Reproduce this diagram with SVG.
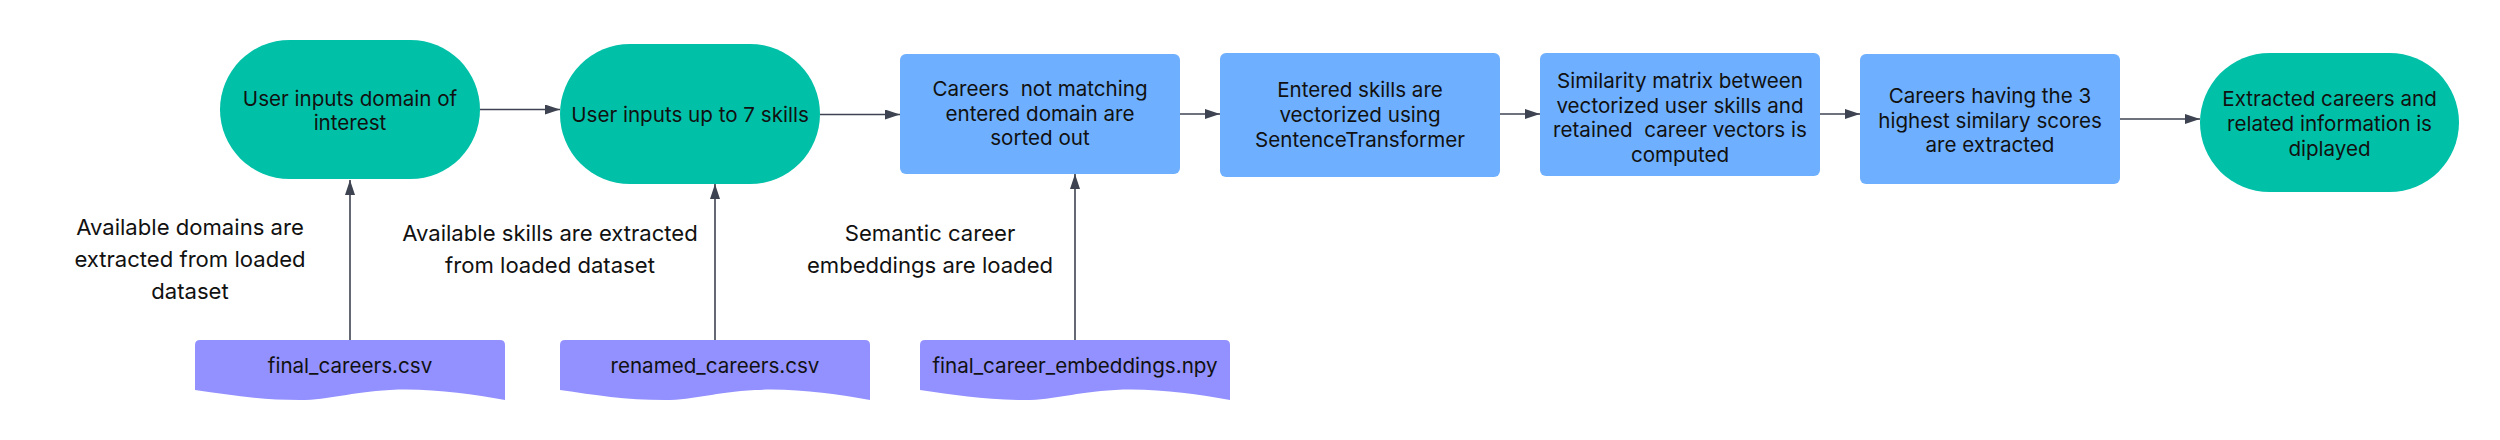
<svg xmlns="http://www.w3.org/2000/svg" width="2500" height="440" viewBox="0 0 2500 440">
<style>
.term{fill:#00C1A8}
.proc{fill:#6EB0FF}
.doc{fill:#9391FF}
.t{font-family:Inter,"Noto Sans",sans-serif;font-size:20.6px;fill:#111;text-anchor:middle}
.lbl{font-family:Inter,"Noto Sans",sans-serif;font-size:22.1px;fill:#111;text-anchor:middle}
.c{stroke:#3D4350;stroke-width:1.6;fill:none;marker-end:url(#ah)}
</style>
<defs>
<marker id="ah" viewBox="0 0 15 10" refX="15" refY="5" markerWidth="15" markerHeight="10" markerUnits="userSpaceOnUse" orient="auto">
<path d="M0,0 L15,5 L0,10 Z" fill="#3D4350"/>
</marker>
</defs>
<rect width="2500" height="440" fill="#fff"/>
<g id="connectors">
<line class="c" x1="480" y1="109.5" x2="560" y2="109.5"/>
<line class="c" x1="820" y1="114.5" x2="900" y2="114.5"/>
<line class="c" x1="1180" y1="114" x2="1220" y2="114"/>
<line class="c" x1="1500" y1="114" x2="1540" y2="114"/>
<line class="c" x1="1820" y1="114" x2="1860" y2="114"/>
<line class="c" x1="2120" y1="119" x2="2200" y2="119"/>
<line class="c" x1="350" y1="340" x2="350" y2="180"/>
<line class="c" x1="715" y1="340" x2="715" y2="184"/>
<line class="c" x1="1075" y1="340" x2="1075" y2="174"/>
</g>
<g id="node1">
<rect class="term" x="220" y="40" width="260" height="139" rx="69.5"/>
<text class="t" x="350" y="106">User inputs domain of</text>
<text class="t" x="350" y="130">interest</text>
</g>
<g id="node2">
<rect class="term" x="560" y="44" width="260" height="140" rx="70"/>
<text class="t" x="690" y="122">User inputs up to 7 skills</text>
</g>
<g id="node3">
<rect class="proc" x="900" y="54" width="280" height="120" rx="6"/>
<text class="t" x="1040" y="96" xml:space="preserve">Careers  not matching</text>
<text class="t" x="1040" y="121">entered domain are</text>
<text class="t" x="1040" y="145">sorted out</text>
</g>
<g id="node4">
<rect class="proc" x="1220" y="53" width="280" height="124" rx="6"/>
<text class="t" x="1360" y="97">Entered skills are</text>
<text class="t" x="1360" y="122">vectorized using</text>
<text class="t" x="1360" y="147">SentenceTransformer</text>
</g>
<g id="node5">
<rect class="proc" x="1540" y="53" width="280" height="123" rx="6"/>
<text class="t" x="1680" y="88">Similarity matrix between</text>
<text class="t" x="1680" y="112.5">vectorized user skills and</text>
<text class="t" x="1680" y="137" xml:space="preserve">retained  career vectors is</text>
<text class="t" x="1680" y="161.5">computed</text>
</g>
<g id="node6">
<rect class="proc" x="1860" y="54" width="260" height="130" rx="6"/>
<text class="t" x="1990" y="103">Careers having the 3</text>
<text class="t" x="1990" y="127.5">highest similary scores</text>
<text class="t" x="1990" y="152">are extracted</text>
</g>
<g id="node7">
<rect class="term" x="2200" y="53" width="259" height="139" rx="69.5"/>
<text class="t" x="2329.5" y="106">Extracted careers and</text>
<text class="t" x="2329.5" y="131">related information is</text>
<text class="t" x="2329.5" y="156">diplayed</text>
</g>
<g id="doc1">
<path class="doc" d="M195,345 Q195,340 200,340 L500,340 Q505,340 505,345 L505,400 C470,394 430,388 390,390 C350,392 330,400 300,400 C260,400 230,395 195,390 Z"/>
<text class="t" x="350" y="373">final_careers.csv</text>
</g>
<g id="doc2">
<path class="doc" d="M560,345 Q560,340 565,340 L865,340 Q870,340 870,345 L870,400 C835,394 795,388 755,390 C715,392 695,400 665,400 C625,400 595,395 560,390 Z"/>
<text class="t" x="715" y="373">renamed_careers.csv</text>
</g>
<g id="doc3">
<path class="doc" d="M920,345 Q920,340 925,340 L1225,340 Q1230,340 1230,345 L1230,400 C1195,394 1155,388 1115,390 C1075,392 1055,400 1025,400 C985,400 955,395 920,390 Z"/>
<text class="t" x="1075" y="373">final_career_embeddings.npy</text>
</g>
<g id="label1">
<text class="lbl" x="190" y="235">Available domains are</text>
<text class="lbl" x="190" y="267">extracted from loaded</text>
<text class="lbl" x="190" y="299">dataset</text>
</g>
<g id="label2">
<text class="lbl" x="550" y="241">Available skills are extracted</text>
<text class="lbl" x="550" y="273">from loaded dataset</text>
</g>
<g id="label3">
<text class="lbl" x="930" y="241">Semantic career</text>
<text class="lbl" x="930" y="273">embeddings are loaded</text>
</g>
</svg>
